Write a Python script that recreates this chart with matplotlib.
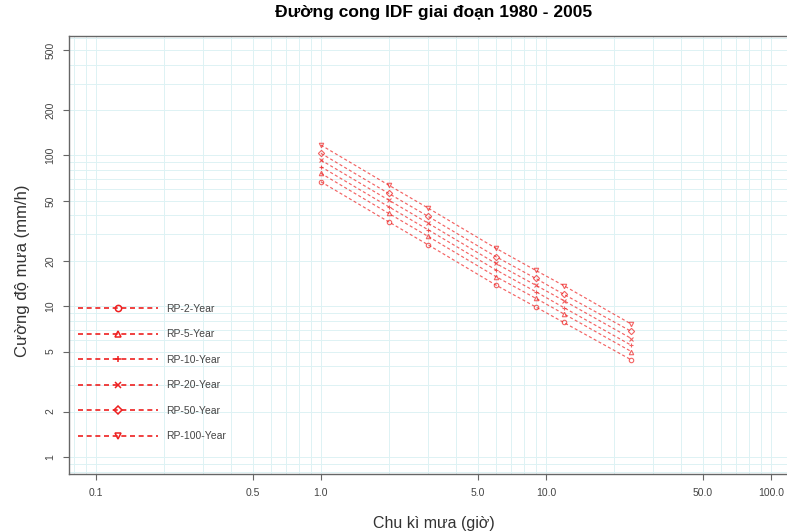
import matplotlib
matplotlib.use("Agg")
import matplotlib.pyplot as plt
from matplotlib.ticker import FixedLocator, LogLocator, NullFormatter

# durations (hours) and intensities (mm/h)
DURATION = [1, 2, 3, 6, 9, 12, 24]
RP2 = [66.9, 36.3, 25.5, 13.8, 9.9, 7.8, 4.4]
RP5 = [76.1, 41.3, 29.0, 15.7, 11.3, 8.9, 5.0]
RP10 = [84.2, 45.7, 32.1, 17.4, 12.5, 9.8, 5.5]
RP20 = [93.2, 50.6, 35.5, 19.2, 13.8, 10.9, 6.1]
RP50 = [103.3, 56.0, 39.4, 21.3, 15.3, 12.0, 6.8]
RP100 = [117.2, 63.6, 44.7, 24.2, 17.3, 13.7, 7.6]

SERIES = [RP2, RP5, RP10, RP20, RP50, RP100]
LABELS = ["RP-2-Year", "RP-5-Year", "RP-10-Year", "RP-20-Year", "RP-50-Year", "RP-100-Year"]
MARKERS = ["o", "^", "+", "x", "D", "v"]

X_TICKS = [0.1, 0.5, 1.0, 5.0, 10.0, 50.0, 100.0]
X_TICKLABELS = ["0.1", "0.5", "1.0", "5.0", "10.0", "50.0", "100.0"]
Y_TICKS = [1, 2, 5, 10, 20, 50, 100, 200, 500]
Y_TICKLABELS = ["1", "2", "5", "10", "20", "50", "100", "200", "500"]

RED = "#EE2020"
GRID = "#DDF2F4"
AXIS = "#666666"
OPEN = ("o", "^", "D", "v")

plt.rcParams["font.family"] = ["Liberation Sans", "DejaVu Sans"]

fig = plt.figure(figsize=(7.87, 5.31), dpi=100)
ax = fig.add_axes([0.0877, 0.1073, 0.926, 0.8249])

ax.set_xscale("log")
ax.set_yscale("log")
ax.set_xlim(0.0759, 131.8)
ax.set_ylim(0.77, 620)

for vals, label, marker in zip(SERIES, LABELS, MARKERS):
    ax.plot(
        DURATION,
        vals,
        color=RED,
        linestyle=(0, (2.6, 2.0)),
        linewidth=0.85,
        marker=marker,
        markersize=3.2,
        markerfacecolor="none" if marker in OPEN else RED,
        markeredgecolor=RED,
        markeredgewidth=0.8,
        alpha=0.7,
        label=label,
        zorder=3,
    )

ax.xaxis.set_major_locator(FixedLocator(X_TICKS))
ax.set_xticklabels(X_TICKLABELS)
ax.xaxis.set_minor_locator(LogLocator(base=10, subs=range(1, 10)))
ax.xaxis.set_minor_formatter(NullFormatter())
ax.yaxis.set_major_locator(FixedLocator(Y_TICKS))
ax.set_yticklabels(Y_TICKLABELS, rotation=90, va="center")
ax.yaxis.set_minor_locator(LogLocator(base=10, subs=range(1, 10)))
ax.yaxis.set_minor_formatter(NullFormatter())

ax.grid(which="both", color=GRID, linewidth=0.7, zorder=0)
ax.set_axisbelow(True)
ax.tick_params(which="major", length=4, width=0.8, color=AXIS, labelsize=7.5, labelcolor="#444444", pad=6)
ax.tick_params(which="minor", length=0)
for side in ax.spines.values():
    side.set_color(AXIS)
    side.set_linewidth(1.0)

ax.set_title("Đường cong IDF giai đoạn 1980 - 2005", fontsize=12.5, fontweight="bold", pad=14)
ax.set_xlabel("Chu kì mưa (giờ)", fontsize=11.5, color="#333333", labelpad=13)
ax.set_ylabel("Cường độ mưa (mm/h)", fontsize=12, color="#333333")
ax.yaxis.set_label_coords(-0.054, 0.465)

# legend handles drawn a bit stronger, as in the reference
leg_handles = []
for marker in MARKERS:
    (h,) = ax.plot([], [], color=RED, linestyle=(0, (3.0, 2.2)), linewidth=1.2,
                   marker=marker, markersize=4.5,
                   markerfacecolor="none" if marker in OPEN else RED,
                   markeredgecolor=RED, markeredgewidth=1.1)
    leg_handles.append(h)

ax.legend(
    leg_handles,
    LABELS,
    loc="upper left",
    bbox_to_anchor=(0.0, 0.41),
    frameon=False,
    fontsize=7.5,
    handlelength=7.6,
    handletextpad=0.8,
    labelspacing=1.49,
    numpoints=1,
    labelcolor="#444444",
)

fig.savefig("out.png", dpi=100)
